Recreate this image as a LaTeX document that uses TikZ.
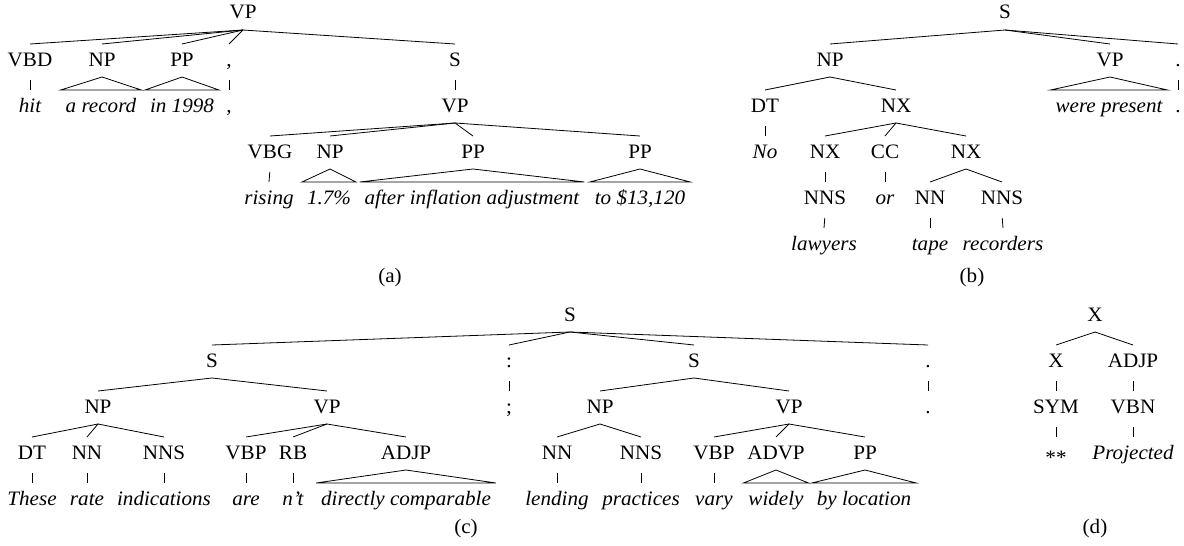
\documentclass[tikz,border=0pt]{standalone}
\usepackage{fontspec}
\setmainfont{Liberation Serif}[FakeStretch=1.03]
\begin{document}
\begin{tikzpicture}[x=1pt,y=-1pt,
  lab/.style={anchor=base, font=\fontsize{20.5}{24}\selectfont, inner xsep=1pt, inner ysep=0pt,
    outer xsep=0pt, outer ysep=9pt, text height=13pt, text depth=2pt},
  wd/.style={lab, font=\fontsize{20.5}{24}\selectfont\itshape},
  tw/.style={wd, inner xsep=5pt},
  capt/.style={anchor=base, font=\fontsize{20.5}{24}\selectfont, inner sep=0pt},
  edge/.style={line width=0.8pt},
  un/.style={edge, shorten <=3pt}]
\useasboundingbox (0,0) rectangle (1184,546);

% ---------------- (a) ----------------
\node[lab] (aR) at (243,19) {VP};
\node[lab] (aVBD) at (30,66) {VBD};
\node[lab] (aNP) at (102,66) {NP};
\node[lab] (aPP) at (182,66) {PP};
\node[lab] (aCm) at (229,66) {,};
\node[lab] (aS) at (455,66) {S};
\node[wd] (aHit) at (30,112) {hit};
\node[tw] (aRec) at (101,112) {a record};
\node[tw] (aIn) at (182,112) {in 1998};
\node[lab] (aCm2) at (229,112) {,};
\node[lab] (aVP) at (455,112) {VP};
\node[lab] (aVBG) at (270,158) {VBG};
\node[lab] (aNP2) at (330,158) {NP};
\node[lab] (aPP2) at (473,158) {PP};
\node[lab] (aPP3) at (640,158) {PP};
\node[wd] (aRis) at (269,204) {rising};
\node[tw] (aPct) at (329,204) {1.7\%};
\node[tw] (aAft) at (472,204) {after inflation adjustment};
\node[tw] (aTo) at (640,204) {to \$13,120};
\node[capt] (aCap) at (390,282) {(a)};

\foreach \c in {aVBD,aNP,aPP,aCm,aS} \draw[edge] (aR.south) -- (\c.north);
\draw[un] (aVBD.south) -- (aHit.north);
\draw[edge] (aRec.north west) -- (aNP.south) -- (aRec.north east) -- cycle;
\draw[edge] (aIn.north west) -- (aPP.south) -- (aIn.north east) -- cycle;
\draw[un] (aCm.south) -- (aCm2.north);
\draw[un] (aS.south) -- (aVP.north);
\foreach \c in {aVBG,aNP2,aPP2,aPP3} \draw[edge] (aVP.south) -- (\c.north);
\draw[un] (aVBG.south) -- (aRis.north);
\draw[edge] (aPct.north west) -- (aNP2.south) -- (aPct.north east) -- cycle;
\draw[edge] (aAft.north west) -- (aPP2.south) -- (aAft.north east) -- cycle;
\draw[edge] (aTo.north west) -- (aPP3.south) -- (aTo.north east) -- cycle;

% ---------------- (b) ----------------
\node[lab] (bR) at (1005,19) {S};
\node[lab] (bNP) at (830,66) {NP};
\node[lab] (bVP) at (1110,66) {VP};
\node[lab] (bDot) at (1178,66) {.};
\node[lab] (bDT) at (765,112) {DT};
\node[lab] (bNX) at (896,112) {NX};
\node[tw] (bWere) at (1109,112) {were present};
\node[lab] (bDot2) at (1178,112) {.};
\node[wd] (bNo) at (765,158) {No};
\node[lab] (bNX1) at (825,158) {NX};
\node[lab] (bCC) at (885,158) {CC};
\node[lab] (bNX2) at (966,158) {NX};
\node[lab] (bNNS) at (825,204) {NNS};
\node[wd] (bOr) at (885,204) {or};
\node[lab] (bNN) at (930,204) {NN};
\node[lab] (bNNS2) at (1002,204) {NNS};
\node[wd] (bLaw) at (824,250) {lawyers};
\node[wd] (bTape) at (930,250) {tape};
\node[wd] (bRec) at (1003,250) {recorders};
\node[capt] (bCap) at (972,282) {(b)};

\foreach \c in {bNP,bVP,bDot} \draw[edge] (bR.south) -- (\c.north);
\draw[edge] (bNP.south) -- (bDT.north);
\draw[edge] (bNP.south) -- (bNX.north);
\draw[edge] (bWere.north west) -- (bVP.south) -- (bWere.north east) -- cycle;
\draw[un] (bDot.south) -- (bDot2.north);
\draw[un] (bDT.south) -- (bNo.north);
\foreach \c in {bNX1,bCC,bNX2} \draw[edge] (bNX.south) -- (\c.north);
\draw[un] (bNX1.south) -- (bNNS.north);
\draw[un] (bCC.south) -- (bOr.north);
\draw[edge] (bNX2.south) -- (bNN.north);
\draw[edge] (bNX2.south) -- (bNNS2.north);
\draw[un] (bNNS.south) -- (bLaw.north);
\draw[un] (bNN.south) -- (bTape.north);
\draw[un] (bNNS2.south) -- (bRec.north);

% ---------------- (c) ----------------
\node[lab] (cR) at (570,321) {S};
\node[lab] (cS1) at (212,367) {S};
\node[lab] (cCol) at (509,367) {:};
\node[lab] (cS2) at (694,367) {S};
\node[lab] (cDot) at (928,367) {.};
\node[lab] (cNP) at (98,413) {NP};
\node[lab] (cVP) at (327,413) {VP};
\node[lab] (cSemi) at (509,413) {;};
\node[lab] (cNP2) at (600,413) {NP};
\node[lab] (cVP2) at (789,413) {VP};
\node[lab] (cDot2) at (928,413) {.};
\node[lab] (cDT) at (32,459) {DT};
\node[lab] (cNN) at (87,459) {NN};
\node[lab] (cNNS) at (164,459) {NNS};
\node[lab] (cVBP) at (246,459) {VBP};
\node[lab] (cRB) at (293,459) {RB};
\node[lab] (cADJP) at (406,459) {ADJP};
\node[lab] (cNN2) at (557,459) {NN};
\node[lab] (cNNS2) at (641,459) {NNS};
\node[lab] (cVBP2) at (714,459) {VBP};
\node[lab] (cADVP) at (776,459) {ADVP};
\node[lab] (cPP) at (865,459) {PP};
\node[wd] (cThese) at (32,505) {These};
\node[wd] (cRate) at (87,505) {rate};
\node[wd] (cInd) at (164,505) {indications};
\node[wd] (cAre) at (246,505) {are};
\node[wd] (cNt) at (293,505) {n’t};
\node[tw] (cDir) at (406,505) {directly comparable};
\node[wd] (cLend) at (557,505) {lending};
\node[wd] (cPrac) at (641,505) {practices};
\node[wd] (cVary) at (714,505) {vary};
\node[tw] (cWide) at (776,505) {widely};
\node[tw] (cBy) at (864,505) {by location};
\node[capt] (cCap) at (466,533) {(c)};

\foreach \c in {cS1,cCol,cS2,cDot} \draw[edge] (cR.south) -- (\c.north);
\draw[edge] (cS1.south) -- (cNP.north);
\draw[edge] (cS1.south) -- (cVP.north);
\draw[un] (cCol.south) -- (cSemi.north);
\draw[edge] (cS2.south) -- (cNP2.north);
\draw[edge] (cS2.south) -- (cVP2.north);
\draw[un] (cDot.south) -- (cDot2.north);
\foreach \c in {cDT,cNN,cNNS} \draw[edge] (cNP.south) -- (\c.north);
\foreach \c in {cVBP,cRB,cADJP} \draw[edge] (cVP.south) -- (\c.north);
\draw[edge] (cNP2.south) -- (cNN2.north);
\draw[edge] (cNP2.south) -- (cNNS2.north);
\foreach \c in {cVBP2,cADVP,cPP} \draw[edge] (cVP2.south) -- (\c.north);
\draw[un] (cDT.south) -- (cThese.north);
\draw[un] (cNN.south) -- (cRate.north);
\draw[un] (cNNS.south) -- (cInd.north);
\draw[un] (cVBP.south) -- (cAre.north);
\draw[un] (cRB.south) -- (cNt.north);
\draw[edge] (cDir.north west) -- (cADJP.south) -- (cDir.north east) -- cycle;
\draw[un] (cNN2.south) -- (cLend.north);
\draw[un] (cNNS2.south) -- (cPrac.north);
\draw[un] (cVBP2.south) -- (cVary.north);
\draw[edge] (cWide.north west) -- (cADVP.south) -- (cWide.north east) -- cycle;
\draw[edge] (cBy.north west) -- (cPP.south) -- (cBy.north east) -- cycle;

% ---------------- (d) ----------------
\node[lab] (dR) at (1095,321) {X};
\node[lab] (dX) at (1056,367) {X};
\node[lab] (dADJP) at (1133,367) {ADJP};
\node[lab] (dSYM) at (1056,413) {SYM};
\node[lab] (dVBN) at (1133,413) {VBN};
\node[lab] (dAst) at (1056,459) {\raisebox{-5pt}{**}};
\node[wd] (dProj) at (1133,459) {Projected};
\node[capt] (dCap) at (1095,533) {(d)};

\draw[edge] (dR.south) -- (dX.north);
\draw[edge] (dR.south) -- (dADJP.north);
\draw[un] (dX.south) -- (dSYM.north);
\draw[un] (dADJP.south) -- (dVBN.north);
\draw[un] (dSYM.south) -- (dAst.north);
\draw[un] (dVBN.south) -- (dProj.north);
\end{tikzpicture}
\end{document}
